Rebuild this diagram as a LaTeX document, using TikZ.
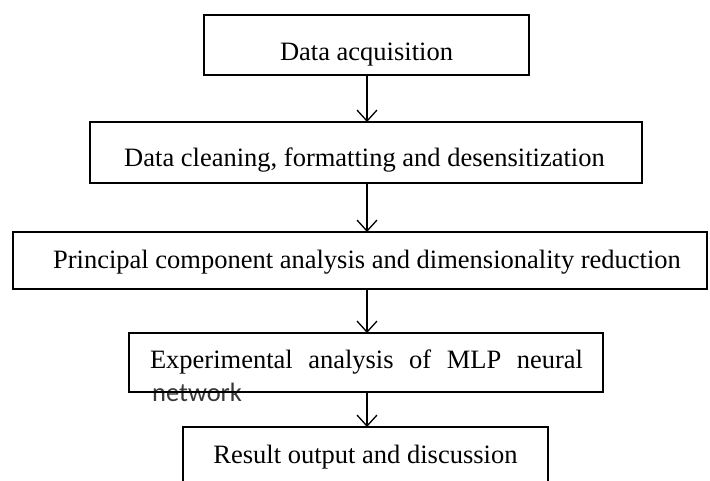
\documentclass[tikz,border=0pt]{standalone}
\usepackage{fontspec}
\setmainfont{Liberation Serif}
\newfontfamily\calfont{Carlito}
\usetikzlibrary{arrows.meta}
\begin{document}
\begin{tikzpicture}[x=1pt,y=-1pt,
  box/.style={draw=black, line width=1.6pt, rectangle, inner sep=0pt, outer sep=0pt},
  lbl/.style={anchor=base, inner sep=0pt, font=\fontsize{26.5}{30}\selectfont},
  arr/.style={draw=black, line width=1.3pt, -{Straight Barb[length=11pt,width=20pt,line width=1.3pt]}}]
\useasboundingbox (0,0) rectangle (710,480);
% labels
\node[lbl] (t1) at (366.5,60) {Data acquisition};
\node[lbl] (t2) at (364.5,166) {Data cleaning, formatting and desensitization};
\node[lbl] (t3) at (367,268) {Principal component analysis and dimensionality reduction};
\node[lbl] (t4) at (366.5,368) {\makebox[433pt][s]{Experimental analysis of MLP neural}};
\node[lbl, anchor=base west, font=\calfont\fontsize{26.5}{30}\selectfont, text=black!78] (t4b) at (152,401.7) {network};
\node[lbl] (t5) at (365.5,463) {Result output and discussion};
% boxes
\node[box, minimum width=325pt, minimum height=60pt] (b1) at (366.5,45) {};
\node[box, minimum width=552pt, minimum height=61pt] (b2) at (366,152.5) {};
\node[box, minimum width=694pt, minimum height=57pt] (b3) at (360,260.5) {};
\node[box, minimum width=474pt, minimum height=59pt] (b4) at (366,362.5) {};
\node[box, minimum width=365pt, minimum height=60pt] (b5) at (365.5,457) {};
% arrows
\coordinate (ax) at (367,0);
\draw[arr] (b1.south -| ax) -- (b2.north -| ax);
\draw[arr] (b2.south -| ax) -- (b3.north -| ax);
\draw[arr] (b3.south -| ax) -- (b4.north -| ax);
\draw[arr] (b4.south -| ax) -- (b5.north -| ax);
\end{tikzpicture}
\end{document}
